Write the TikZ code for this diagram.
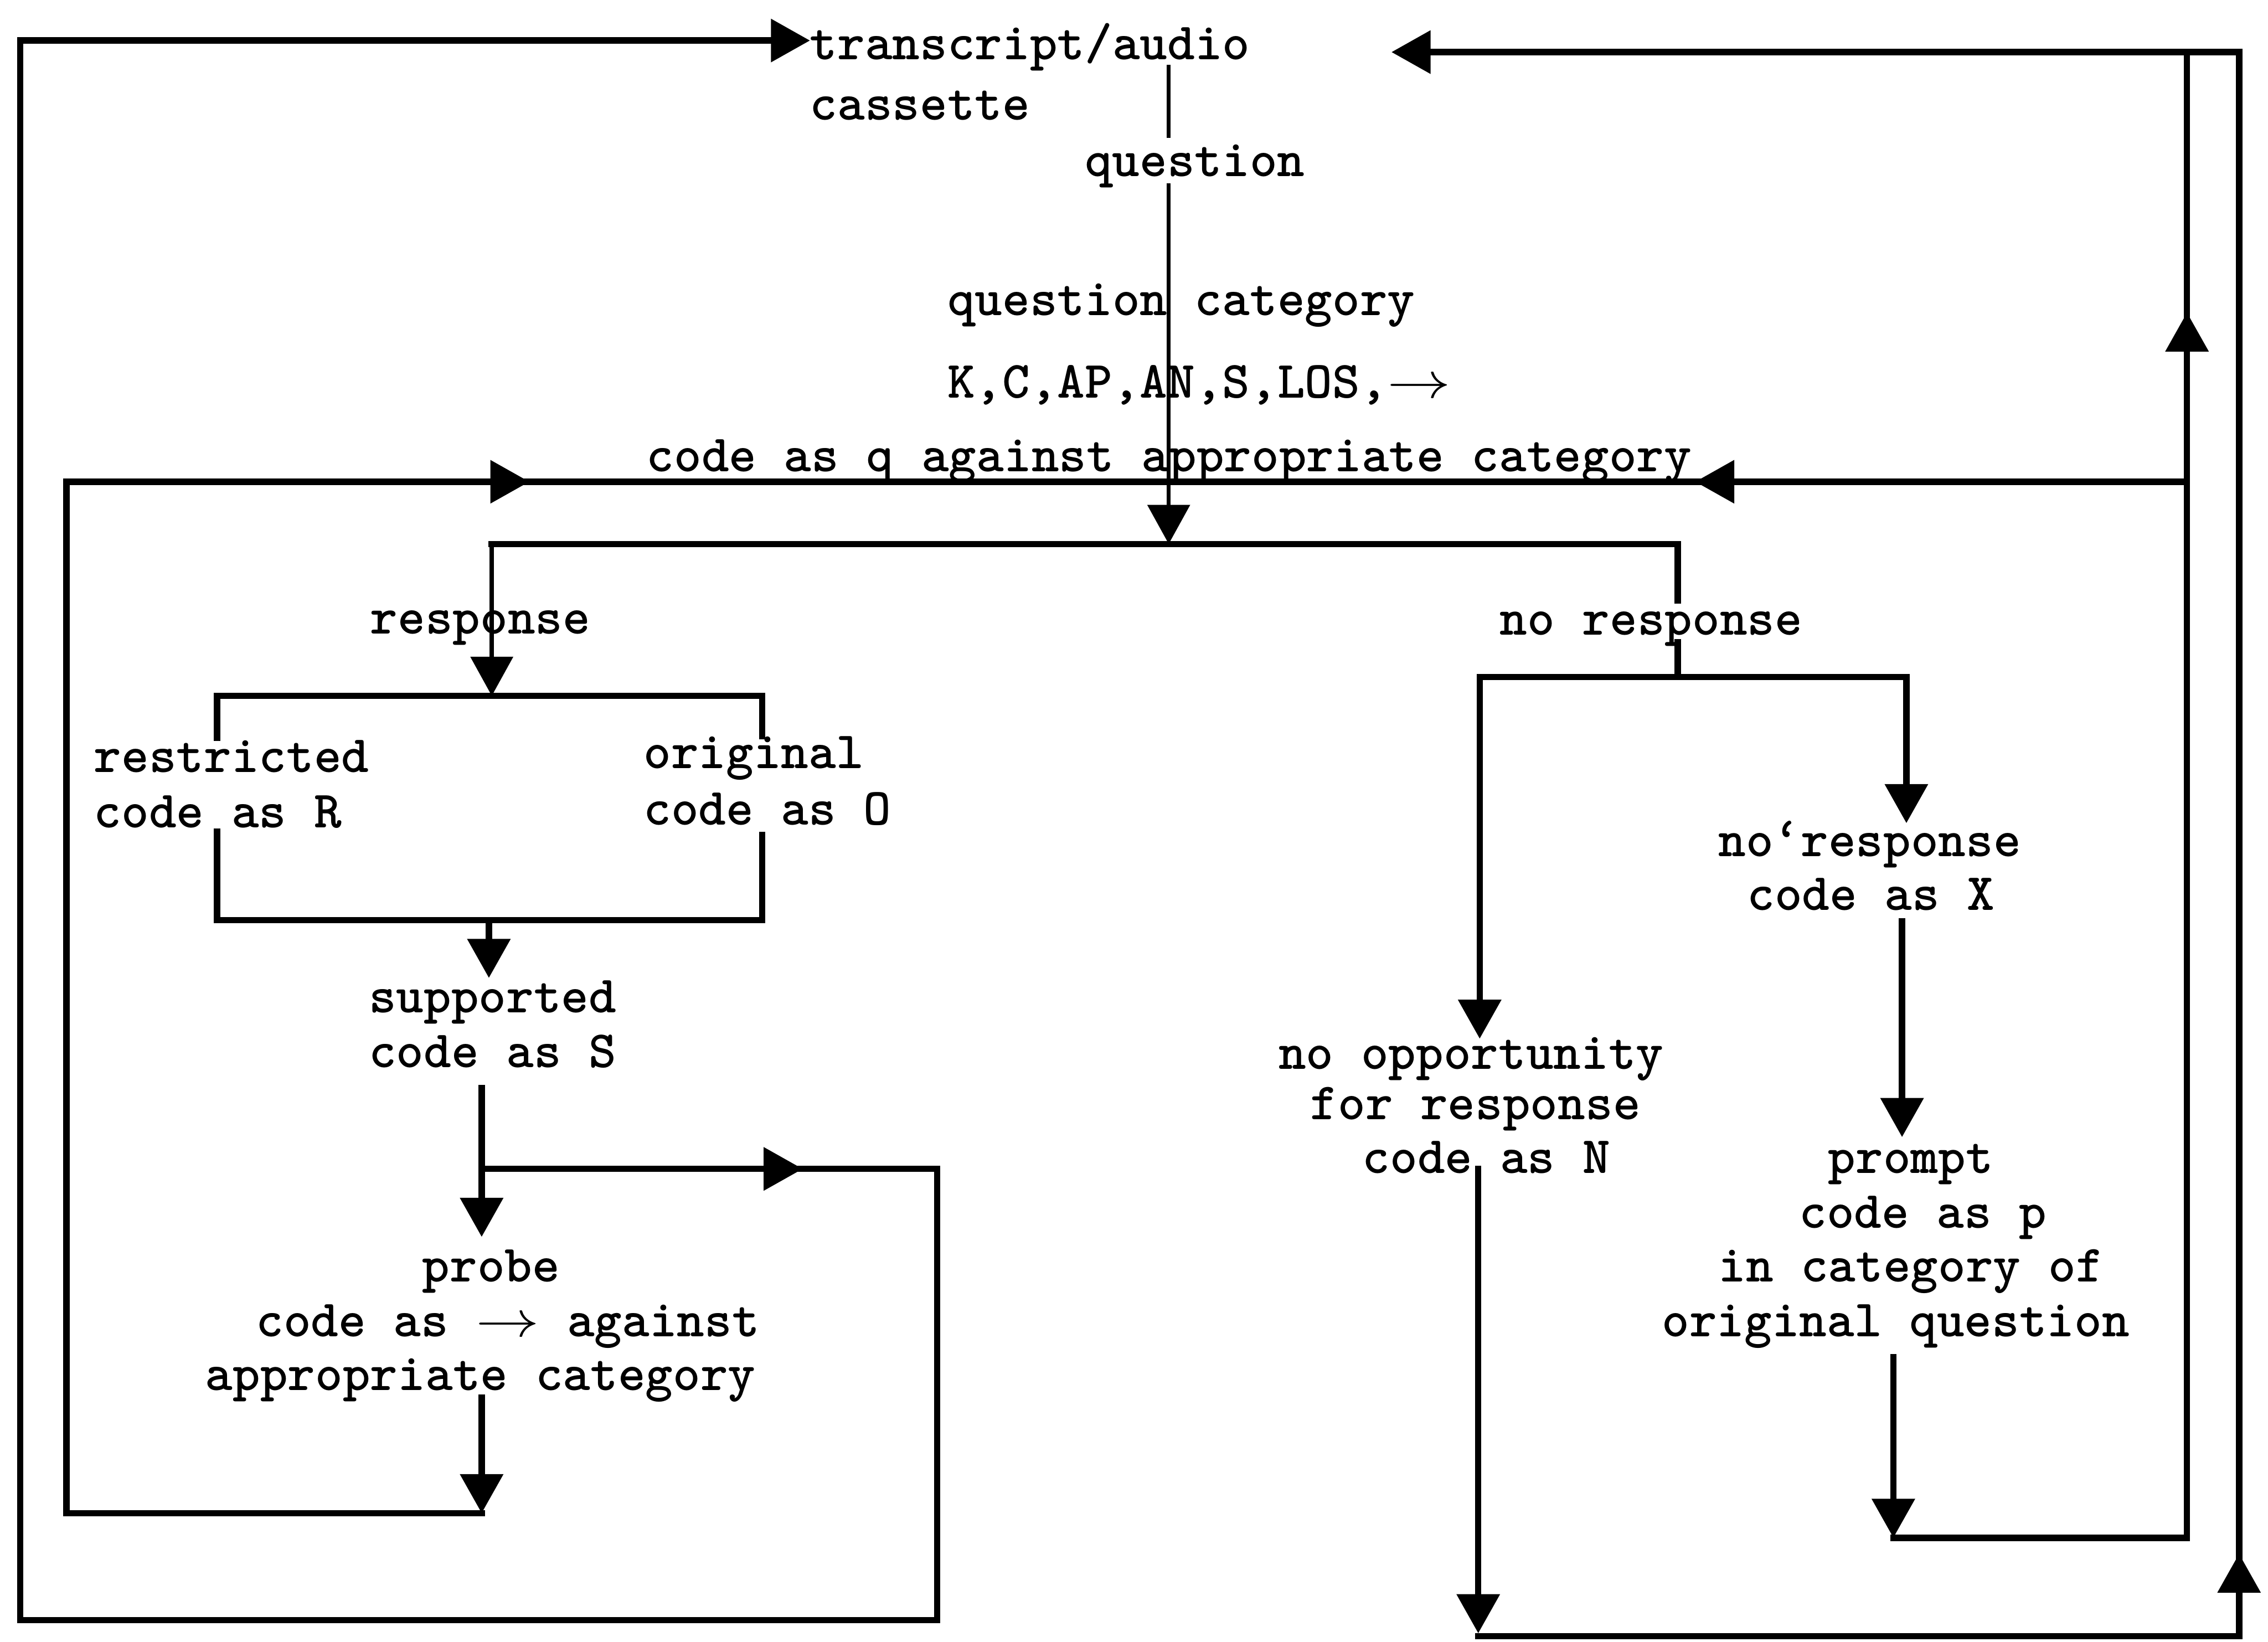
\documentclass[tikz,border=0pt]{standalone}
\usetikzlibrary{arrows.meta}
\newcommand\tyfont{\fontsize{10.3pt}{10.6pt}\selectfont\ttfamily\bfseries}
\newcommand\tyarrow{\scalebox{1.25}[1]{$\rightarrow$}}
\begin{document}
\begin{tikzpicture}[x=0.01cm,y=-0.01cm,
  tylabel/.style={inner sep=0pt, outer sep=0pt, anchor=base west, font=\tyfont},
  tyline/.style={line width=1.25pt, line cap=rect, line join=miter},
  tythin/.style={line width=0.8pt, line cap=rect},
  arrowed/.style={-{Triangle[length=2.7mm,width=2.9mm]}},
]
\useasboundingbox (0,0) rectangle (1568,1135);

% ---------- texts ----------
\node[tylabel] (trans)   at (560,41)  {transcript/audio};
\node[tylabel] (cass)    at (560,83)  {cassette};
\node[tylabel] (quest)   at (750,122) {question};
\node[tylabel] (qcat)    at (655,218) {question category};
\node[tylabel] (kcap)    at (655,275) {K,C,AP,AN,S,LOS,\tyarrow};
\node[tylabel] (codeq)   at (447,326) {code as q against appropriate category};
\node[tylabel] (resp)    at (256,438) {response};
\node[tylabel] (nresp)   at (1037,439) {no response};
\node[tylabel] (restr)   at (65,534)  {restricted};
\node[tylabel] (codeR)   at (65,572)  {code as R};
\node[tylabel] (orig)    at (445,531) {original};
\node[tylabel] (codeO)   at (445,570) {code as O};
\node[tylabel] (supp)    at (255,700) {supported};
\node[tylabel] (codeS)   at (255,738) {code as S};
\node[tylabel] (probe)   at (292,886) {probe};
\node[tylabel] (probeB)  at (177,924) {code as \tyarrow{} against};
\node[tylabel] (probeC)  at (142,961) {appropriate category};
\node[tylabel] (noopp)   at (884,739) {no opportunity};
\node[tylabel] (forresp) at (906,774) {for response};
\node[tylabel] (codeN)   at (942,811) {code as N};
\node[tylabel] (nrX)     at (1188,592) {no‘response};
\node[tylabel] (codeX)   at (1208,629) {code as X};
\node[tylabel] (prompt)  at (1264,811) {prompt};
\node[tylabel] (codep)   at (1244,849) {code as p};
\node[tylabel] (incat)   at (1188,886) {in category of};
\node[tylabel] (origq)   at (1149,924) {original question};

% ---------- coordinates ----------
\coordinate (c0) at (808,46);
\coordinate (c1) at (808,94);
\coordinate (c2) at (808,128);
\coordinate (c3) at (808,376);
\coordinate (bL) at (340,376);
\coordinate (bR) at (1160,376);
\coordinate (rJ) at (340,481);
\coordinate (rL) at (150,481);
\coordinate (rR) at (527,481);
\coordinate (rLt) at (150,510);
\coordinate (rRt) at (527,509);
\coordinate (rLb) at (150,575);
\coordinate (rRb) at (527,577);
\coordinate (mL) at (150,636);
\coordinate (mR) at (527,636);
\coordinate (mJ) at (338,636);
\coordinate (sTop) at (338,676);
\coordinate (s0) at (333,752);
\coordinate (sj) at (333,808);
\coordinate (pTop) at (333,855);
\coordinate (a1) at (555,808);
\coordinate (o1) at (648,808);
\coordinate (o2) at (648,1120);
\coordinate (o3) at (14,1120);
\coordinate (o4) at (14,28);
\coordinate (p0) at (333,966);
\coordinate (iB1) at (333,1046);
\coordinate (iB2) at (46,1046);
\coordinate (iT) at (46,333);
\coordinate (a2) at (366,333);
\coordinate (jR) at (1512,333);
\coordinate (a3) at (1172,333);
\coordinate (n0) at (1160,415);
\coordinate (n1) at (1160,444);
\coordinate (nJ) at (1160,468);
\coordinate (nL) at (1023,468);
\coordinate (nR) at (1318,468);
\coordinate (nLt) at (1023,718);
\coordinate (nRt) at (1318,569);
\coordinate (x0) at (1315,637);
\coordinate (x1) at (1315,786);
\coordinate (q0) at (1309,938);
\coordinate (q1) at (1309,1063);
\coordinate (q2) at (1512,1063);
\coordinate (q3) at (1512,36);
\coordinate (a4) at (1512,216);
\coordinate (N0) at (1022,808);
\coordinate (N1) at (1022,1129);
\coordinate (b1) at (1022,1131);
\coordinate (b2) at (1548,1131);
\coordinate (b3) at (1548,36);
\coordinate (a5) at (1548,1074);
\coordinate (tR) at (962,36);

% ---------- connectors ----------
% central spine
\draw[tythin] (c0) -- (c1);
\draw[tythin,arrowed] (c2) -- (c3);
\draw[tyline] (bL) -- (bR);

% response side
\draw[tythin,arrowed] (bL) -- (rJ);
\draw[tyline] (rL) -- (rR);
\draw[tyline] (rL) -- (rLt);
\draw[tyline] (rR) -- (rRt);
\draw[tyline] (rLb) -- (mL) -- (mR) -- (rRb);
\draw[tyline,arrowed] (mJ) -- (sTop);
\draw[tyline,arrowed] (s0) -- (pTop);

% supported -> back to transcript (outer left loop)
\draw[tyline,arrowed] (sj) -- (a1);
\draw[tyline,arrowed] (sj) -- (o1) -- (o2) -- (o3) -- (o4) -- (o4 -| trans.west);

% probe -> back to code as q (inner left loop)
\draw[tyline,arrowed] (p0) -- (iB1);
\draw[tyline] (iB1) -- (iB2) -- (iT) -- (jR);
\draw[tyline,arrowed] (iT) -- (a2);
\draw[tyline,arrowed] (jR) -- (a3);

% no response side
\draw[tyline] (bR) -- (n0);
\draw[tyline] (n1) -- (nJ);
\draw[tyline] (nL) -- (nR);
\draw[tyline,arrowed] (nL) -- (nLt);
\draw[tyline,arrowed] (nR) -- (nRt);
\draw[tyline,arrowed] (x0) -- (x1);

% prompt -> back up (inner right)
\draw[tyline,arrowed] (q0) -- (q1);
\draw[tyline] (q1) -- (q2) -- (q3);
\draw[tyline,arrowed] (jR) -- (a4);

% no opportunity -> bottom -> outer right -> transcript
\draw[tyline,arrowed] (N0) -- (N1);
\draw[tyline,arrowed] (b1) -- (b2) -- (b3) -- (tR);
\draw[tyline,arrowed] (b2) -- (a5);
\end{tikzpicture}
\end{document}
